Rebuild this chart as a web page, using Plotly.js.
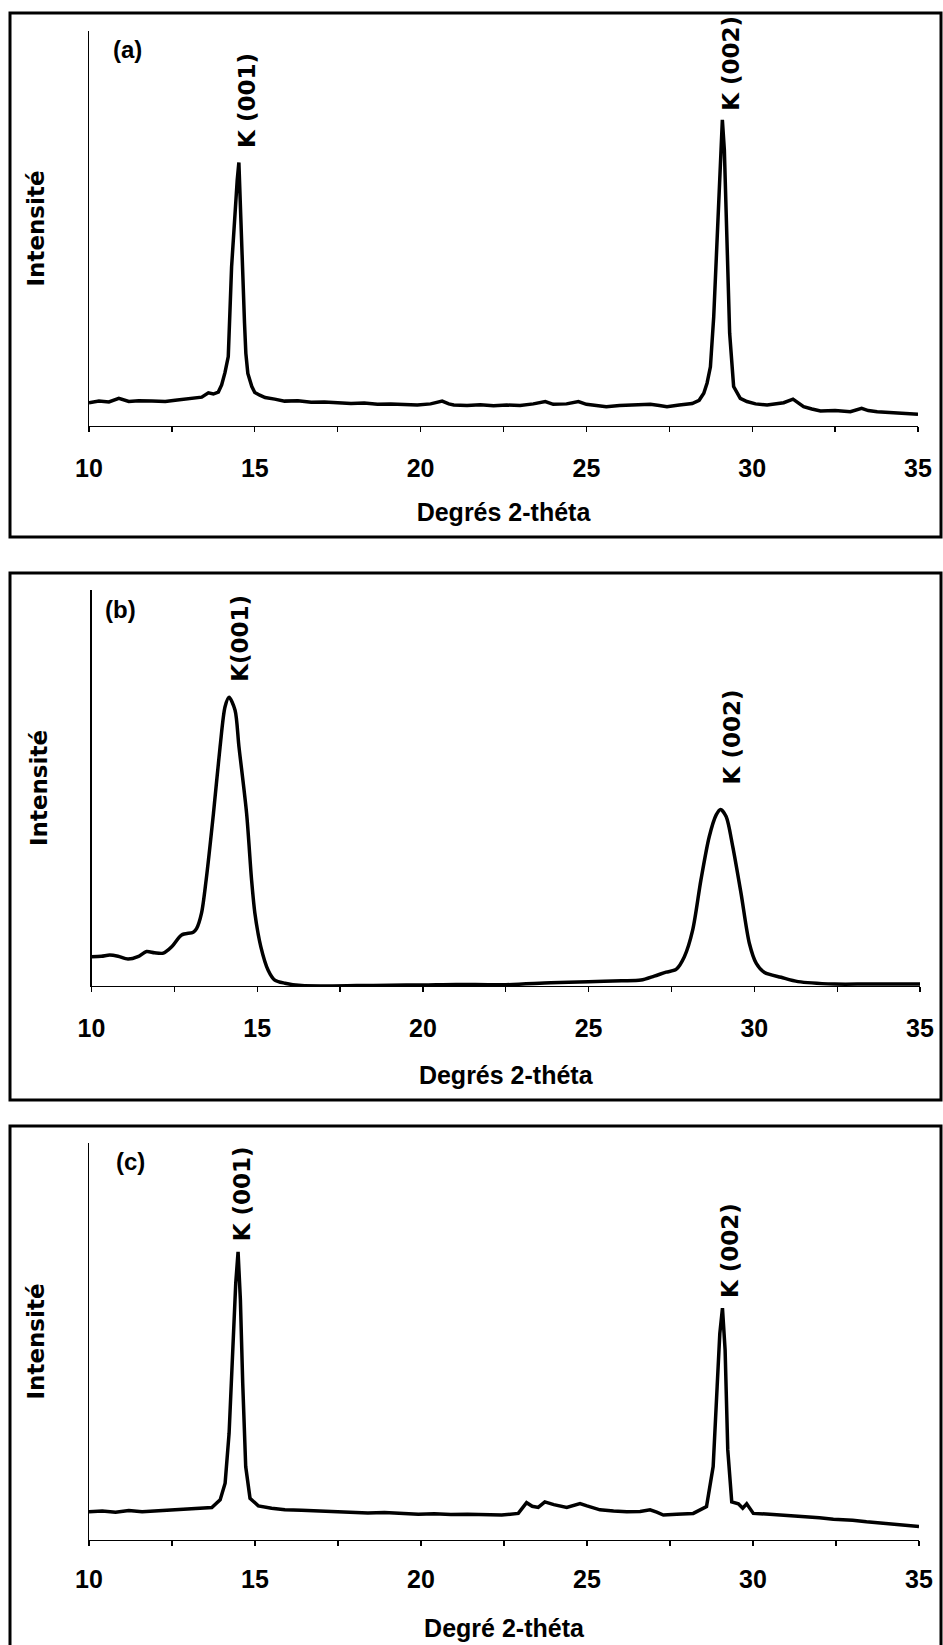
<!DOCTYPE html>
<html>
<head>
<meta charset="utf-8">
<script src="https://cdn.plot.ly/plotly-3.0.1.min.js"></script>
<style>html,body{margin:0;padding:0;background:#fff;}#chart{width:943px;height:1645px;}</style>
</head>
<body>
<div id="chart"></div>
<script>
// ---------- DATA ----------
// Panel (a)
const twoThetaA = [10.0,10.3,10.6,10.9,11.2,11.5,11.9,12.3,12.6,12.9,
  13.2,13.4,13.6,13.75,13.9,14.0,14.1,14.2,14.3,14.36,
  14.43,14.47,14.52,14.56,14.6,14.65,14.69,14.73,14.79,14.91,
  15.0,15.15,15.31,15.6,15.9,16.3,16.7,17.1,17.5,17.9,
  18.3,18.7,19.1,19.5,19.9,20.3,20.65,20.85,21.0,21.4,
  21.8,22.2,22.6,23.0,23.4,23.76,24.0,24.4,24.76,25.0,
  25.3,25.6,26.0,26.5,26.93,27.2,27.43,27.8,28.19,28.4,
  28.54,28.64,28.74,28.84,28.94,29.04,29.1,29.16,29.24,29.32,
  29.44,29.64,29.84,30.1,30.45,30.7,30.95,31.23,31.4,31.55,
  31.8,32.06,32.5,32.96,33.3,33.5,33.77,34.1,34.47,34.8,35.0];
const intensityA = [5.9,6.3,6.1,7.0,6.2,6.4,6.3,6.2,6.5,6.8,
  6.9,7.3,8.4,8.1,8.6,10.4,13.5,17.6,40.3,48.8,
  57.2,62.3,66.7,55.5,47.1,36.2,26.0,18.4,13.3,10.0,
  8.5,7.8,7.2,6.8,6.3,6.4,6.0,6.1,5.8,5.7,
  5.8,5.5,5.6,5.4,5.3,5.6,6.3,5.6,5.3,5.2,
  5.4,5.1,5.3,5.2,5.6,6.2,5.5,5.6,6.2,5.5,
  5.2,4.9,5.2,5.3,5.5,5.2,4.9,5.3,5.7,6.5,
  8.3,10.9,15.0,27.7,48.8,69.9,77.5,69.9,48.8,23.5,
  10.0,7.0,6.2,5.6,5.3,5.5,5.9,6.8,5.9,4.9,
  4.3,3.8,3.9,3.6,4.5,3.9,3.6,3.4,3.2,3.0,3.0];
const peaksA = [14.52, 29.1];
const labelsA = ['K (001)', 'K (002)'];

// Panel (b)
const twoThetaB = [10.0,10.3,10.55,10.8,11.1,11.4,11.66,11.9,12.17,12.42,
  12.72,13.07,13.17,13.32,13.46,13.68,13.88,14.03,14.15,14.33,
  14.45,14.68,14.83,14.93,15.11,15.33,15.53,15.84,16.34,17.0,
  18.0,19.0,20.0,21.0,22.4,23.86,25.0,26.0,26.58,26.98,
  27.34,27.64,27.89,28.14,28.39,28.64,28.85,28.98,29.15,29.35,
  29.6,29.85,30.06,30.31,30.81,31.32,32.42,33.43,35.0];
const intensityB = [7.4,7.5,7.8,7.5,6.8,7.4,8.7,8.4,8.3,9.9,
  12.9,13.6,14.5,18.4,26.8,43.6,60.4,70.5,72.9,69.7,
  60.4,43.6,26.8,18.4,9.9,4.0,1.5,0.7,0.1,0.0,
  0.1,0.2,0.25,0.4,0.3,0.8,1.1,1.3,1.5,2.5,
  3.5,4.2,7.4,14.1,26.8,37.7,43.2,44.6,42.8,35.2,
  23.4,10.8,5.7,3.4,2.2,1.1,0.5,0.5,0.5];
const peaksB = [14.15, 28.98];
const labelsB = ['K(001)', 'K (002)'];

// Panel (c)
const twoThetaC = [10.0,10.4,10.8,11.2,11.6,12.0,12.4,12.89,13.3,13.7,
  13.95,14.1,14.22,14.35,14.42,14.49,14.56,14.63,14.72,14.85,
  15.1,15.5,15.9,16.4,16.9,17.4,17.91,18.4,18.9,19.4,
  19.92,20.4,20.9,21.4,21.9,22.43,22.93,23.18,23.35,23.53,
  23.73,24.0,24.39,24.79,25.0,25.39,25.8,26.2,26.6,26.9,
  27.1,27.3,27.7,28.2,28.6,28.8,28.92,29.0,29.08,29.16,
  29.24,29.36,29.56,29.69,29.81,30.01,30.5,30.91,31.5,32.0,
  32.42,33.0,33.42,34.0,34.5,35.0];
const intensityC = [7.1,7.3,7.0,7.4,7.1,7.3,7.5,7.7,7.9,8.2,
  10.1,14.3,26.9,52.0,64.7,72.6,60.5,39.5,18.5,10.5,
  8.6,8.0,7.6,7.5,7.3,7.2,7.0,6.8,6.9,6.6,
  6.5,6.6,6.4,6.5,6.3,6.3,6.7,9.4,8.5,8.2,
  9.6,8.9,8.2,9.2,8.6,7.6,7.3,7.1,7.2,7.6,
  7.0,6.3,6.5,6.7,8.4,18.5,38.6,52.0,58.4,47.9,
  22.7,9.6,9.1,8.0,9.1,6.7,6.5,6.3,5.9,5.6,
  5.2,5.0,4.6,4.2,3.8,3.4];
const peaksC = [14.49, 29.08];
const labelsC = ['K (001)', 'K (002)'];

const panelTags = ['(a)', '(b)', '(c)'];
const xTitles = ['Degrés 2-théta', 'Degrés 2-théta', 'Degré 2-théta'];
const yTitle = 'Intensité';
const xTickVals = [10, 15, 20, 25, 30, 35];

// ---------- LAYOUT ----------
const W = 943, H = 1645;
const px = v => v / W;
const py = v => 1 - v / H;
const ARIAL = 'Liberation Sans, Arial, sans-serif';
const DEJAVU = 'DejaVu Sans, Verdana, sans-serif';

const panels = [
  {xs: twoThetaA, ys: intensityA, peaks: peaksA, labels: labelsA, spline: false,
   xd: [89, 918], yd: [426, 31], box: [13, 537], tagPos: [127, 49], shifts: [[8, 13], [9, 7]], tStand: 22, lStand: 15},
  {xs: twoThetaB, ys: intensityB, peaks: peaksB, labels: labelsB, spline: true,
   xd: [91.5, 920], yd: [986, 590], box: [573, 1100], tagPos: [121, 609], shifts: [[11, 13], [11, 23]], tStand: 25, lStand: 15},
  {xs: twoThetaC, ys: intensityC, peaks: peaksC, labels: labelsC, spline: false,
   xd: [89, 919], yd: [1540, 1143], box: [1126, 1700], tagPos: [130, 1161], shifts: [[4, 8], [7, 8]], tStand: 27, lStand: 12}
];

const traces = [];
const annotations = [];
const shapes = [];
const layout = {
  width: W, height: H,
  margin: {l: 0, r: 0, t: 0, b: 0},
  paper_bgcolor: '#fff', plot_bgcolor: '#fff',
  showlegend: false,
  font: {family: ARIAL, color: '#000'}
};

panels.forEach((p, i) => {
  const s = i === 0 ? '' : String(i + 1);
  traces.push({
    type: 'scatter', mode: 'lines',
    x: p.xs, y: p.ys,
    xaxis: 'x' + s, yaxis: 'y' + s,
    line: {color: '#000', width: 3.5, shape: p.spline ? 'spline' : 'linear', smoothing: 0.8},
    hoverinfo: 'skip'
  });
  layout['xaxis' + s] = {
    domain: [px(p.xd[0]), px(p.xd[1])], anchor: 'y' + s,
    range: [10, 35], tickmode: 'array', tickvals: xTickVals,
    ticks: 'outside', ticklen: 5, tickwidth: 1.2, tickcolor: '#000',
    showline: true, linecolor: '#000', linewidth: 1.2,
    showgrid: false, zeroline: false, fixedrange: true,
    ticklabelstandoff: p.lStand,
    tickfont: {family: ARIAL, size: 25, color: '#000', weight: 'bold'},
    minor: {tick0: 10, dtick: 2.5, ticks: 'outside', ticklen: 5, tickwidth: 1.2, tickcolor: '#000', showgrid: false},
    title: {text: xTitles[i], font: {family: ARIAL, size: 25, color: '#000', weight: 'bold'}, standoff: p.tStand}
  };
  layout['yaxis' + s] = {
    domain: [py(p.yd[0]), py(p.yd[1])], anchor: 'x' + s,
    range: [0, 100], showticklabels: false, ticks: '',
    showline: true, linecolor: '#000', linewidth: 1.2,
    showgrid: false, zeroline: false, fixedrange: true,
    title: {text: yTitle, font: {family: DEJAVU, size: 23, color: '#000', weight: 'bold'}, standoff: 36}
  };
  // outer frame
  shapes.push({type: 'rect', xref: 'paper', yref: 'paper',
    x0: px(10), x1: px(941), y0: py(p.box[1]), y1: py(p.box[0]),
    line: {color: '#000', width: 3}, fillcolor: 'rgba(0,0,0,0)', layer: 'below'});
  // panel tag
  annotations.push({xref: 'paper', yref: 'paper', x: px(p.tagPos[0]), y: py(p.tagPos[1]),
    text: panelTags[i], showarrow: false, xanchor: 'center', yanchor: 'middle',
    font: {family: ARIAL, size: 24, color: '#000', weight: 'bold'}});
  // peak labels
  p.peaks.forEach((pk, j) => {
    const yv = p.ys[p.xs.indexOf(pk)];
    annotations.push({xref: 'x' + s, yref: 'y' + s, x: pk, y: yv,
      text: p.labels[j], showarrow: false, textangle: -90,
      xanchor: 'center', yanchor: 'bottom',
      xshift: p.shifts[j][0], yshift: p.shifts[j][1],
      font: {family: DEJAVU, size: 23, color: '#000', weight: 'bold'}});
  });
});
layout.shapes = shapes;
layout.annotations = annotations;

Plotly.newPlot('chart', traces, layout, {staticPlot: true, displayModeBar: false});
</script>
</body>
</html>
